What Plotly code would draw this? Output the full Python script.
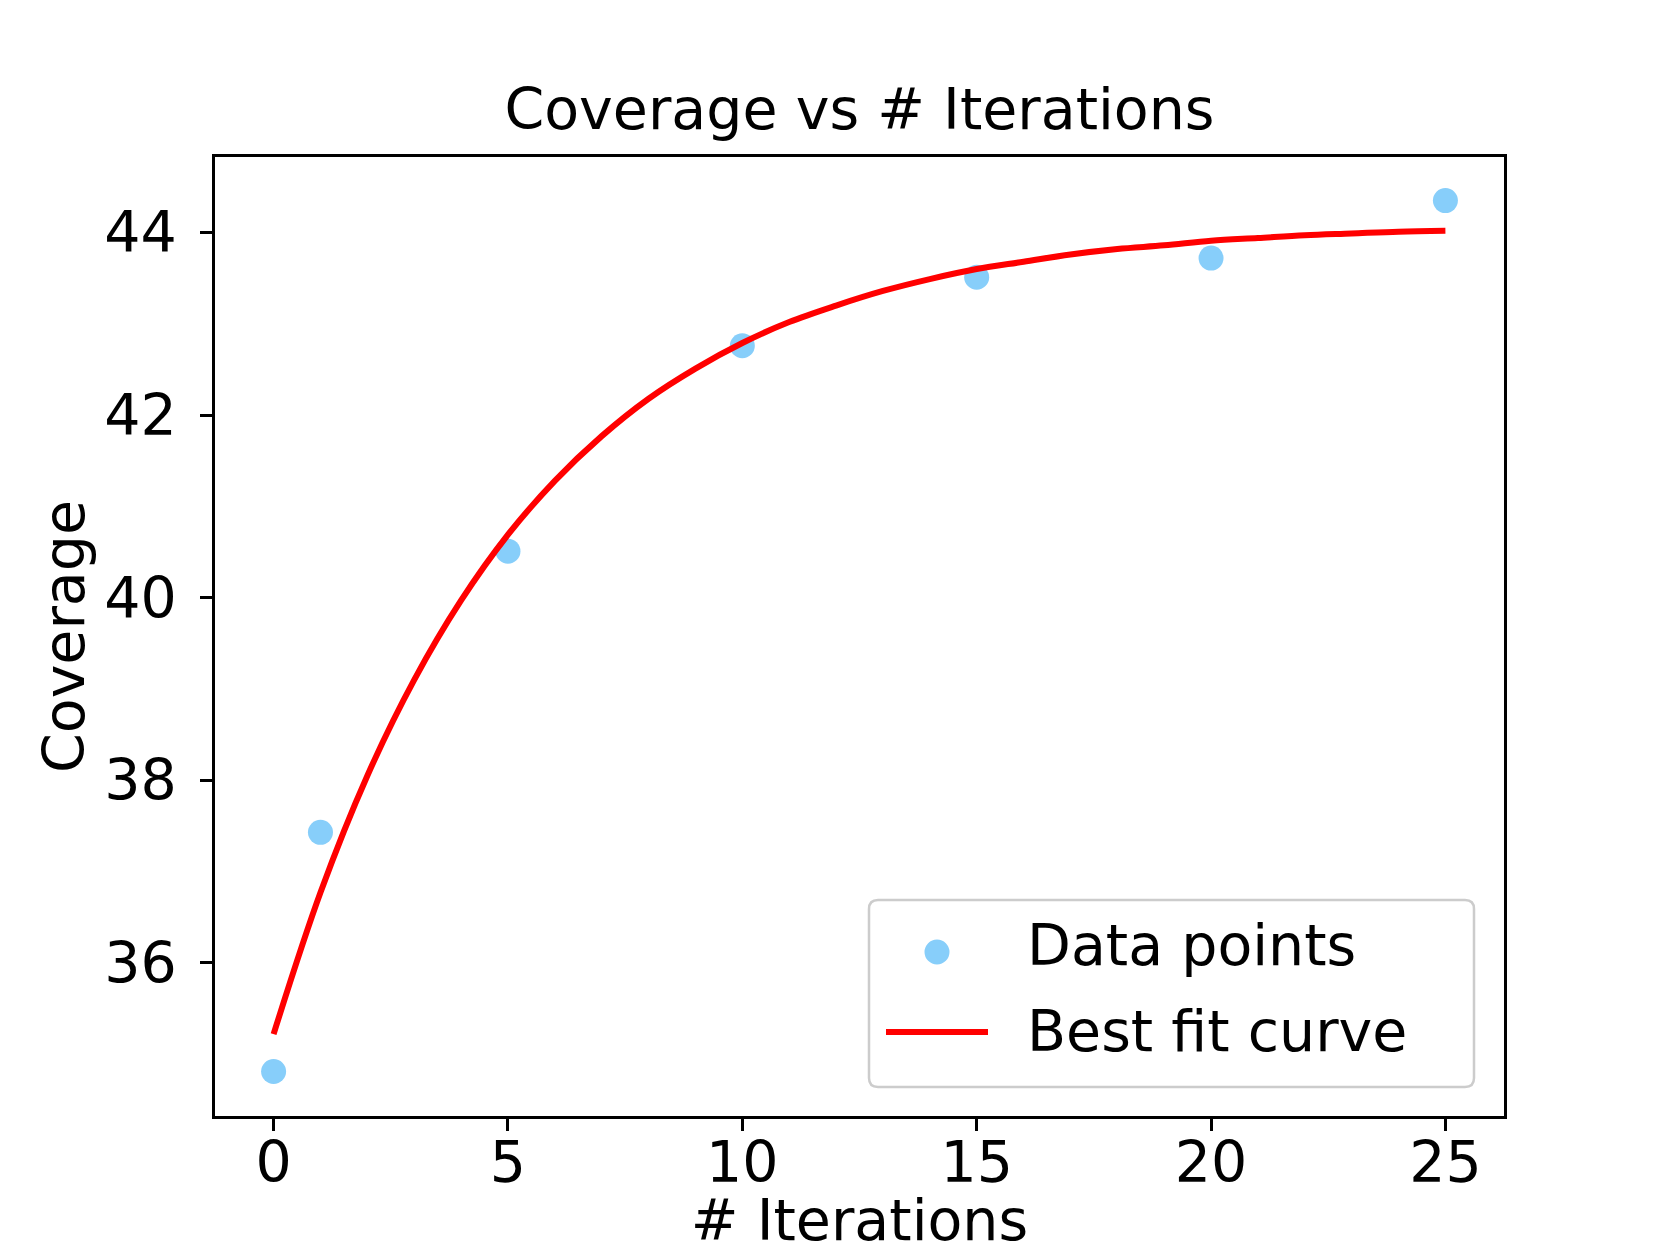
import plotly.graph_objects as go

# Data
iterations = [0, 1, 5, 10, 15, 20, 25]
coverage = [34.81, 37.43, 40.51, 42.76, 43.51, 43.72, 44.35]

fit_x = list(range(0, 26))
fit_y = [35.22, 36.77, 38.05, 39.10, 39.97, 40.69, 41.28, 41.77, 42.18, 42.51,
         42.79, 43.02, 43.20, 43.36, 43.49, 43.60, 43.68, 43.76, 43.82, 43.86,
         43.91, 43.94, 43.97, 43.99, 44.01, 44.02]

x_ticks = [0, 5, 10, 15, 20, 25]
y_ticks = [36, 38, 40, 42, 44]

W, H = 1660, 1245
L, R, T, B = 207, 1496, 149, 1108  # plot area in px
FONT = "DejaVu Sans"
FS = 57


def px(xp):
    return (xp - L) / (R - L)


def py(yp):
    return (B - yp) / (B - T)


fig = go.Figure()
fig.add_trace(go.Scatter(
    x=iterations, y=coverage, mode="markers", name="Data points",
    marker=dict(color="#87CEFA", size=25, line=dict(width=0)),
    showlegend=False,
))
fig.add_trace(go.Scatter(
    x=fit_x, y=fit_y, mode="lines", name="Best fit curve",
    line=dict(color="#FF0000", width=6, shape="spline"),
    showlegend=False,
))

axis_common = dict(
    showline=True, linecolor="black", linewidth=2.5, mirror=True,
    ticks="outside", ticklen=12, tickwidth=2.5, tickcolor="black",
    showgrid=False, zeroline=False,
    tickfont=dict(family=FONT, size=FS, color="black"),
)

fig.update_xaxes(
    range=[-1.25, 26.25], tickvals=x_ticks, ticktext=[str(v) for v in x_ticks],
    title=dict(text="# Iterations", font=dict(family=FONT, size=FS, color="black"), standoff=36),
    ticklabelstandoff=-17,
    **axis_common,
)
fig.update_yaxes(
    range=[34.3225, 44.8275], tickvals=y_ticks, ticktext=[str(v) for v in y_ticks],
    title=dict(text="Coverage", font=dict(family=FONT, size=FS, color="black"), standoff=2),
    ticklabelstandoff=12,
    **axis_common,
)

# Legend (matplotlib-style rounded box)
lx0, lx1, ly0, ly1 = 861, 1466, 892, 1079
rr = 9
X0, X1 = px(lx0), px(lx1)
Y0, Y1 = py(ly1), py(ly0)
rx = rr / (R - L)
ry = rr / (B - T)
path = (f"M {X0+rx},{Y0} L {X1-rx},{Y0} Q {X1},{Y0} {X1},{Y0+ry} "
        f"L {X1},{Y1-ry} Q {X1},{Y1} {X1-rx},{Y1} L {X0+rx},{Y1} "
        f"Q {X0},{Y1} {X0},{Y1-ry} L {X0},{Y0+ry} Q {X0},{Y0} {X0+rx},{Y0} Z")
shapes = [
    dict(type="path", xref="paper", yref="paper", path=path,
         line=dict(color="#CCCCCC", width=2.5), fillcolor="rgba(255,255,255,0.8)", layer="above"),
    dict(type="circle", xref="paper", yref="paper",
         x0=px(929 - 12.5), x1=px(929 + 12.5), y0=py(944 + 12.5), y1=py(944 - 12.5),
         fillcolor="#87CEFA", line=dict(width=0), layer="above"),
    dict(type="line", xref="paper", yref="paper",
         x0=px(878), x1=px(980), y0=py(1024), y1=py(1024),
         line=dict(color="#FF0000", width=6), layer="above"),
]
annotations = [
    dict(text="Data points", xref="paper", yref="paper", x=px(1017), y=py(937),
         xanchor="left", yanchor="middle", showarrow=False,
         font=dict(family=FONT, size=FS, color="black")),
    dict(text="Best fit curve", xref="paper", yref="paper", x=px(1017), y=py(1023),
         xanchor="left", yanchor="middle", showarrow=False,
         font=dict(family=FONT, size=FS, color="black")),
]

fig.update_layout(
    width=W, height=H,
    margin=dict(l=L, r=W - R, t=T, b=H - B, autoexpand=False),
    paper_bgcolor="white", plot_bgcolor="white",
    title=dict(text="Coverage vs # Iterations", x=0.5, xref="paper",
               y=1 - 101 / H, yref="container", yanchor="middle", xanchor="center",
               font=dict(family=FONT, size=FS, color="black")),
    shapes=shapes, annotations=annotations,
    showlegend=False,
)

fig.write_html("out.html")
